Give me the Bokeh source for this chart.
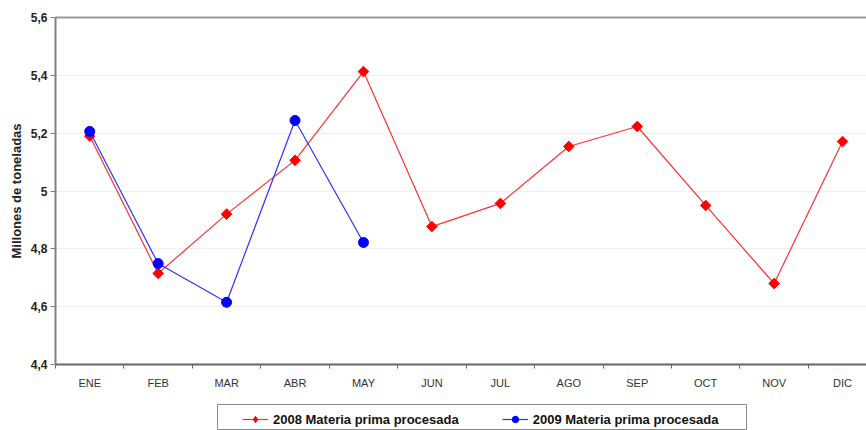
import math
from bokeh.plotting import figure
from bokeh.models import FixedTicker, Range1d, Legend, LegendItem, ColumnDataSource, LinearAxis, Spacer
from bokeh.layouts import column, row
from bokeh.embed import file_html
from bokeh.resources import INLINE

months = ["ENE", "FEB", "MAR", "ABR", "MAY", "JUN", "JUL", "AGO", "SEP", "OCT", "NOV", "DIC"]
values_2008 = [5.19, 4.715, 4.92, 5.106, 5.413, 4.877, 4.957, 5.154, 5.223, 4.95, 4.68, 5.171]
values_2009 = [5.206, 4.749, 4.615, 5.244, 4.822]
y_ticks = [4.4, 4.6, 4.8, 5.0, 5.2, 5.4, 5.6]
y_tick_labels = ["4,4", "4,6", "4,8", "5", "5,2", "5,4", "5,6"]
series_names = ["2008 Materia prima procesada", "2009 Materia prima procesada"]

x08 = list(range(1, len(values_2008) + 1))
x09 = list(range(1, len(values_2009) + 1))
src08 = ColumnDataSource(dict(x=x08, y=values_2008))
src09 = ColumnDataSource(dict(x=x09, y=values_2009))

FONT = "Liberation Sans"
RED_LINE = "#ff3030"
RED = "#ff0000"
BLUE_LINE = "#3030ff"
BLUE = "#0000ff"

p = figure(width=866, height=403, output_backend="svg", toolbar_location=None,
           x_range=Range1d(0.5, 12.35), y_range=Range1d(4.4, 5.6),
           min_border_left=55, min_border_right=0, min_border_top=17, min_border_bottom=39)
p.outline_line_color = None

# y axis
p.yaxis.ticker = FixedTicker(ticks=y_ticks)
p.yaxis.major_label_overrides = {t: l for t, l in zip(y_ticks, y_tick_labels)}
p.yaxis.major_label_text_font = FONT
p.yaxis.major_label_text_font_style = "bold"
p.yaxis.major_label_text_font_size = "12px"
p.yaxis.major_label_text_color = "#222222"
p.yaxis.axis_label = "Millones de toneladas"
p.yaxis.axis_label_text_font = FONT
p.yaxis.axis_label_text_font_style = "bold"
p.yaxis.axis_label_text_font_size = "13px"
p.yaxis.axis_label_text_color = "#222222"
p.yaxis.axis_label_standoff = 4
p.yaxis.axis_line_color = "#808080"
p.yaxis.axis_line_width = 2
p.yaxis.major_tick_line_color = "#808080"
p.yaxis.major_tick_in = 0
p.yaxis.major_tick_out = 5
p.yaxis.minor_tick_line_color = None
p.yaxis.major_label_standoff = 3

# x axis
p.xaxis.ticker = FixedTicker(ticks=x08, minor_ticks=[i + 0.5 for i in range(0, 13)])
p.xaxis.major_label_overrides = {i: m for i, m in zip(x08, months)}
p.xaxis.major_label_text_font = FONT
p.xaxis.major_label_text_font_size = "11px"
p.xaxis.major_label_text_color = "#333333"
p.xaxis.major_tick_line_color = None
p.xaxis.minor_tick_line_color = "#666666"
p.xaxis.minor_tick_in = 0
p.xaxis.minor_tick_out = 4
p.xaxis.axis_line_color = "#666666"
p.xaxis.axis_line_width = 2
p.xaxis.major_label_standoff = 6

# top border line (added after configuring the bottom axis)
top = LinearAxis(ticker=FixedTicker(ticks=[]), axis_line_color="#9a9a9a", axis_line_width=2,
                 major_tick_line_color=None, minor_tick_line_color=None,
                 major_label_text_font_size="0px")
p.add_layout(top, "above")

p.xgrid.grid_line_color = None
p.ygrid.ticker = FixedTicker(ticks=y_ticks)
p.ygrid.grid_line_color = "#f0f0f0"

DIAMOND = dict(marker="square", angle=math.pi / 4, size=7.5, fill_color=RED, line_color=RED)
DOT = dict(marker="circle", size=10, fill_color=BLUE, line_color=BLUE)

p.line("x", "y", source=src08, line_color=RED_LINE, line_width=1.2)
p.scatter("x", "y", source=src08, **DIAMOND)
p.line("x", "y", source=src09, line_color=BLUE_LINE, line_width=1.2)
p.scatter("x", "y", source=src09, **DOT)

# legend strip (its frame outline forms the legend box); series drawn outside its visible range
lg = figure(width=530, height=27, output_backend="svg", toolbar_location=None,
            x_range=Range1d(100, 101), y_range=Range1d(100, 101),
            min_border_left=0, min_border_right=1, min_border_top=1, min_border_bottom=0)
lg.axis.visible = False
lg.grid.grid_line_color = None
lg.outline_line_color = "#8a8a8a"
lg.outline_line_width = 1
g1 = lg.line("x", "y", source=src08, line_color=RED_LINE, line_width=1.2)
g1m = lg.scatter("x", "y", source=src08, marker="diamond", size=10, fill_color=RED, line_color=RED)
g2 = lg.line("x", "y", source=src09, line_color=BLUE_LINE, line_width=1.2)
g2m = lg.scatter("x", "y", source=src09, **DOT)

legend = Legend(items=[
    LegendItem(label=series_names[0], renderers=[g1, g1m]),
    LegendItem(label=series_names[1], renderers=[g2, g2m]),
], orientation="horizontal", location=(25, 3))
legend.label_text_font = FONT
legend.label_text_font_style = "bold"
legend.label_text_font_size = "13px"
legend.label_text_color = "#111111"
legend.border_line_color = None
legend.background_fill_color = None
legend.padding = 0
legend.margin = 0
legend.spacing = 43
legend.glyph_width = 26
legend.glyph_height = 16
legend.label_height = 16
legend.label_standoff = 5
lg.add_layout(legend, "center")

layout = column(p, row(Spacer(width=217, height=27), lg, spacing=0), spacing=0)
open("out.html", "w").write(file_html(layout, INLINE))
